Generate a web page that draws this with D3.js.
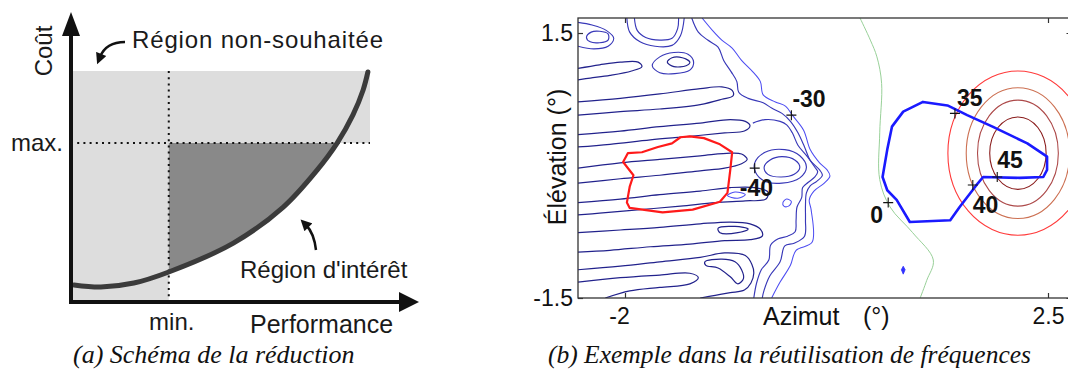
<!DOCTYPE html>
<html><head><meta charset="utf-8">
<script src="https://cdn.jsdelivr.net/npm/d3@7"></script>
<style>
html,body{margin:0;padding:0;background:#fff;}
svg{display:block;font-family:"Liberation Sans",Arial,sans-serif;}
</style></head>
<body>
<svg id="fig" width="1068" height="373"></svg>
<script>
// ================= DATA : panel (a) schematic =================
const perfValues = [0.1, 1.0, 2.1, 3.27, 5.43, 7.1, 8.23, 8.9, 9.43, 9.77, 9.93];
const costValues = [0.74, 0.65, 0.82, 1.30, 2.55, 4.11, 5.71, 6.88, 8.10, 9.18, 9.96];
const perfMin = 3.27;   // "min."
const costMax = 6.88;   // "max."
const schemaTickLabels = ["min.", "max."];
const schemaAxisTitles = ["Performance", "Coût"];
const schemaRegionLabels = ["Région non-souhaitée", "Région d'intérêt"];

// ================= DATA : panel (b) contour example =================
const azTicks = [-2, 2.5];
const azTickLabels = ["-2", "2.5"];
const elTicks = [-1.5, 1.5];
const elTickLabels = ["-1.5", "1.5"];

const markerAz = [-0.23, -0.62, 0.80, 1.51, 1.70, 1.96];
const markerEl = [0.57, -0.03, -0.42, 0.59, -0.22, -0.13];
const markerLabels = ["-30", "-40", "0", "35", "40", "45"];

// concentric contours of the wanted beam (centre, semi-axes in az / el)
const ringCentre = [2.18, 0.14];
const ringRxAz = [0.745, 0.55, 0.43, 0.30];
const ringRyEl = [0.93, 0.74, 0.60, 0.41];

const redZone = [[-2.02,0.04],[-1.97,0.14],[-1.82,0.15],[-1.65,0.21],[-1.50,0.25],[-1.41,0.32],[-1.31,0.33],[-1.16,0.31],[-0.99,0.24],[-0.86,0.15],[-0.88,-0.05],[-0.91,-0.31],[-0.99,-0.41],[-1.28,-0.50],[-1.60,-0.53],[-1.95,-0.48],[-1.98,-0.42],[-1.95,-0.24],[-1.91,-0.11]];
const blueZone = [[1.17,0.72],[1.43,0.68],[1.49,0.65],[1.64,0.57],[1.91,0.44],[2.28,0.25],[2.49,0.10],[2.49,-0.05],[2.45,-0.13],[2.20,-0.14],[1.81,-0.13],[1.74,-0.22],[1.56,-0.47],[1.46,-0.62],[1.03,-0.64],[0.89,-0.39],[0.79,-0.28],[0.74,-0.13],[0.79,0.18],[0.84,0.44],[0.96,0.61]];
const zeroLine = [[0.50,1.67],[0.61,1.42],[0.68,1.23],[0.73,0.93],[0.71,0.37],[0.71,-0.16],[0.82,-0.47],[1.06,-0.76],[1.28,-1.07],[1.21,-1.30],[1.14,-1.50]];
const smallBlob = [[0.94,-1.18],[0.96,-1.14],[0.98,-1.18],[0.96,-1.23]];

// side-lobe contours (open lines and closed loops)
const lobeTL = [[-2.50,1.62],[-2.35,1.59],[-2.20,1.53],[-2.12,1.44],[-2.18,1.35],[-2.33,1.32],[-2.50,1.35]];
const islandTL = [[-2.41,1.45],[-2.36,1.51],[-2.27,1.52],[-2.18,1.49],[-2.18,1.42],[-2.27,1.39],[-2.37,1.40]];
const topOuter = [[-1.98,1.67],[-1.95,1.51],[-1.84,1.40],[-1.68,1.35],[-1.50,1.36],[-1.41,1.47],[-1.37,1.67]];
const topInner = [[-1.90,1.67],[-1.87,1.53],[-1.78,1.45],[-1.63,1.42],[-1.50,1.44],[-1.44,1.55],[-1.43,1.67]];
const loopI2 = [[-1.71,1.13],[-1.63,1.23],[-1.48,1.28],[-1.33,1.26],[-1.27,1.17],[-1.31,1.08],[-1.47,1.04],[-1.63,1.05]];
const islandI2 = [[-1.55,1.17],[-1.50,1.22],[-1.39,1.22],[-1.31,1.17],[-1.35,1.13],[-1.48,1.12]];
const stripe1 = [[-2.50,1.10],[-2.27,1.14],[-2.05,1.17],[-1.86,1.17],[-1.82,1.12],[-1.93,1.07],[-2.16,1.02],[-2.37,0.99],[-2.50,0.97]];
const stripe2 = [[-2.50,0.72],[-2.05,0.76],[-1.63,0.81],[-1.20,0.87],[-0.97,0.89],[-0.86,0.85],[-0.85,0.79],[-0.97,0.75],[-1.20,0.69],[-1.63,0.64],[-2.05,0.61],[-2.50,0.57]];
const stripe3 = [[-2.50,0.35],[-2.05,0.39],[-1.63,0.44],[-1.20,0.48],[-0.88,0.52],[-0.72,0.50],[-0.67,0.45],[-0.73,0.39],[-0.94,0.37],[-1.31,0.33],[-1.73,0.29],[-2.16,0.24],[-2.50,0.21]];
const stripe4 = [[-2.50,-0.03],[-2.05,0.03],[-1.63,0.07],[-1.20,0.11],[-0.88,0.14],[-0.76,0.13],[-0.70,0.07],[-0.76,0.02],[-0.94,-0.03],[-1.20,-0.06],[-1.63,-0.11],[-2.05,-0.15],[-2.50,-0.20]];
const stripe5 = [[-2.50,-0.42],[-2.05,-0.38],[-1.63,-0.33],[-1.20,-0.29],[-0.88,-0.25],[-0.62,-0.25],[-0.48,-0.30],[-0.50,-0.38],[-0.72,-0.40],[-1.04,-0.42],[-1.41,-0.46],[-1.84,-0.50],[-2.27,-0.54],[-2.50,-0.56]];
const stripe6 = [[-2.50,-0.76],[-2.05,-0.73],[-1.63,-0.70],[-1.20,-0.66],[-0.88,-0.64],[-0.67,-0.66],[-0.56,-0.72],[-0.54,-0.80],[-0.67,-0.84],[-0.94,-0.85],[-1.31,-0.89],[-1.73,-0.92],[-2.16,-0.96],[-2.50,-0.98]];
const island6 = [[-1.01,-0.71],[-0.83,-0.69],[-0.69,-0.72],[-0.80,-0.76],[-0.99,-0.76]];
const stripe7 = [[-2.50,-1.18],[-2.05,-1.14],[-1.63,-1.09],[-1.20,-1.04],[-0.94,-0.99],[-0.72,-1.02],[-0.65,-1.12],[-0.63,-1.22],[-0.66,-1.33],[-0.73,-1.41],[-0.88,-1.44],[-1.04,-1.47],[-1.20,-1.50]];
const island7 = [[-1.15,-1.09],[-0.97,-1.06],[-0.83,-1.09],[-0.76,-1.18],[-0.74,-1.28],[-0.80,-1.34],[-0.88,-1.26],[-1.01,-1.16],[-1.14,-1.13]];
const stripe8 = [[-2.50,-1.32],[-2.05,-1.27],[-1.63,-1.24],[-1.31,-1.22],[-1.22,-1.27],[-1.31,-1.34],[-1.63,-1.38],[-1.95,-1.42],[-2.21,-1.50]];
const edgeOuter = [[-1.18,1.67],[-1.07,1.53],[-0.97,1.42],[-0.86,1.33],[-0.76,1.19],[-0.64,1.06],[-0.56,0.95],[-0.53,0.80],[-0.40,0.72],[-0.29,0.67],[-0.22,0.57],[-0.10,0.40],[-0.03,0.18],[0.07,0.03],[0.15,-0.05],[0.18,-0.12],[0.12,-0.20],[0.01,-0.29],[-0.04,-0.39],[-0.02,-0.50],[-0.01,-0.87],[-0.18,-0.96],[-0.24,-1.13],[-0.35,-1.32],[-0.44,-1.50]];
const edgeMiddle = [[-1.29,1.67],[-1.22,1.51],[-1.12,1.42],[-1.01,1.34],[-0.95,1.19],[-0.87,1.06],[-0.81,0.95],[-0.79,0.83],[-0.69,0.76],[-0.53,0.71],[-0.44,0.65],[-0.33,0.59],[-0.24,0.50],[-0.16,0.37],[-0.09,0.21],[-0.03,0.06],[0.07,-0.05],[0.10,-0.11],[0.04,-0.18],[-0.03,-0.23],[-0.07,-0.31],[-0.08,-0.45],[-0.08,-0.62],[-0.09,-0.80],[-0.20,-0.88],[-0.30,-0.91],[-0.35,-1.09],[-0.46,-1.25],[-0.52,-1.41],[-0.54,-1.50]];
const edgeInner = [[-0.64,0.48],[-0.51,0.52],[-0.35,0.50],[-0.28,0.46],[-0.22,0.37],[-0.16,0.23],[-0.06,0.10],[0.02,-0.02],[0.05,-0.07],[0.02,-0.13],[-0.05,-0.19],[-0.11,-0.25],[-0.12,-0.36],[-0.17,-0.47],[-0.18,-0.62],[-0.19,-0.75],[-0.27,-0.80],[-0.37,-0.83],[-0.45,-0.90],[-0.47,-1.07],[-0.55,-1.18],[-0.60,-1.33],[-0.63,-1.50]];
const islandI3 = [[-0.52,-0.02],[-0.46,0.06],[-0.33,0.10],[-0.19,0.06],[-0.14,-0.02],[-0.20,-0.10],[-0.34,-0.13],[-0.48,-0.10]];
const loopI3 = [[-0.62,0.03],[-0.51,0.15],[-0.30,0.18],[-0.14,0.11],[-0.07,-0.02],[-0.14,-0.14],[-0.33,-0.20],[-0.51,-0.18],[-0.61,-0.08]];
const islandI4 = [[-0.91,-0.34],[-0.83,-0.30],[-0.72,-0.33],[-0.80,-0.37]];
const islandI5 = [[-0.32,-0.42],[-0.28,-0.38],[-0.23,-0.41],[-0.26,-0.46],[-0.31,-0.46]];

const contourList = [
  {pts: lobeTL, closed:false, tone:"mid"}, {pts: islandTL, closed:true, tone:"mid"},
  {pts: topOuter, closed:false, tone:"mid"}, {pts: topInner, closed:false, tone:"mid"},
  {pts: loopI2, closed:true, tone:"mid"}, {pts: islandI2, closed:true, tone:"dark"},
  {pts: stripe1, closed:false, tone:"dark"}, {pts: stripe2, closed:false, tone:"dark"},
  {pts: stripe3, closed:false, tone:"dark"}, {pts: stripe4, closed:false, tone:"dark"},
  {pts: stripe5, closed:false, tone:"dark"}, {pts: stripe6, closed:false, tone:"dark"},
  {pts: island6, closed:true, tone:"dark"}, {pts: stripe7, closed:false, tone:"dark"},
  {pts: island7, closed:true, tone:"dark"}, {pts: stripe8, closed:false, tone:"dark"},
  {pts: edgeOuter, closed:false, tone:"light"}, {pts: edgeMiddle, closed:false, tone:"mid"},
  {pts: edgeInner, closed:false, tone:"mid"}, {pts: islandI3, closed:true, tone:"mid"},
  {pts: loopI3, closed:true, tone:"mid"}, {pts: islandI4, closed:true, tone:"light"},
  {pts: islandI5, closed:true, tone:"light"}
];

// ================= STYLE =================
const toneStyle = {
  dark:  {color:"#22228c", width:1.2},
  mid:   {color:"#3838b8", width:1.15},
  light: {color:"#4d4df2", width:1.05}
};
const ringColors = ["#ff3a3a", "#cc7052", "#ad4a4a", "#8a1c1c"];

const svg = d3.select("#fig");
const defs = svg.append("defs");
defs.append("marker").attr("id","ah").attr("viewBox","0 0 10 10")
  .attr("refX",3).attr("refY",5).attr("markerWidth",12).attr("markerHeight",11)
  .attr("markerUnits","userSpaceOnUse").attr("orient","auto")
  .append("path").attr("d","M0,0L10,5L0,10z").attr("fill","#111");

// ================= PANEL (a) =================
const xa = d3.scaleLinear().domain([0,10]).range([71,370]);
const ya = d3.scaleLinear().domain([0,10]).range([302,71]);
const ga = svg.append("g");
const curvePts = perfValues.map((p,i)=>[p, costValues[i]]);

ga.append("rect").attr("x",xa(0)).attr("y",ya(10))
  .attr("width",xa(10)-xa(0)).attr("height",ya(costMax)-ya(10)).attr("fill","#dddddd");
ga.append("rect").attr("x",xa(0)).attr("y",ya(costMax))
  .attr("width",xa(perfMin)-xa(0)).attr("height",ya(0)-ya(costMax)).attr("fill","#dddddd");

defs.append("clipPath").attr("id","clipA").append("rect")
  .attr("x",xa(perfMin)).attr("y",ya(costMax))
  .attr("width",xa(10)-xa(perfMin)).attr("height",ya(0)-ya(costMax));
const areaA = d3.area().x(d=>xa(d[0])).y0(d=>ya(d[1])).y1(ya(costMax))
  .curve(d3.curveCatmullRom.alpha(0.5));
ga.append("path").attr("d",areaA(curvePts)).attr("fill","#898989").attr("clip-path","url(#clipA)");

// dotted guides
ga.append("line").attr("x1",xa(perfMin)).attr("x2",xa(perfMin)).attr("y1",ya(10)).attr("y2",ya(0))
  .attr("stroke","#111").attr("stroke-width",2).attr("stroke-dasharray","2,4.2");
ga.append("line").attr("x1",xa(0)).attr("x2",xa(10)).attr("y1",ya(costMax)).attr("y2",ya(costMax))
  .attr("stroke","#111").attr("stroke-width",2).attr("stroke-dasharray","2,4.2");

// cost / performance curve
ga.append("path").attr("d", d3.line().x(d=>xa(d[0])).y(d=>ya(d[1])).curve(d3.curveCatmullRom.alpha(0.5))(curvePts))
  .attr("fill","none").attr("stroke","#3b3b3b").attr("stroke-width",5).attr("stroke-linecap","round");

// axes with arrows
ga.append("line").attr("x1",xa(0)).attr("x2",xa(0)).attr("y1",ya(0)+2).attr("y2",32)
  .attr("stroke","#111").attr("stroke-width",4);
ga.append("path").attr("d",`M${xa(0)-9},36L${xa(0)+9},36L${xa(0)},12Z`).attr("fill","#111");
ga.append("line").attr("x1",xa(0)-2).attr("x2",402).attr("y1",ya(0)).attr("y2",ya(0))
  .attr("stroke","#111").attr("stroke-width",4);
ga.append("path").attr("d",`M399,${ya(0)-10}L399,${ya(0)+10}L419,${ya(0)}Z`).attr("fill","#111");

// annotation arrows
ga.append("path").attr("d","M125,42 Q106,42 100,57").attr("fill","none")
  .attr("stroke","#111").attr("stroke-width",2.5).attr("marker-end","url(#ah)");
ga.append("path").attr("d","M316,250 Q314,233 306,225").attr("fill","none")
  .attr("stroke","#111").attr("stroke-width",2.5).attr("marker-end","url(#ah)");

// texts
const tA = (txt,x,y,size,anchor)=>ga.append("text").attr("x",x).attr("y",y)
  .attr("font-size",size).attr("text-anchor",anchor||"start").attr("fill","#1a1a1a").text(txt);
tA(schemaRegionLabels[0],132,48,24).attr("textLength",251).attr("lengthAdjust","spacing");
tA(schemaRegionLabels[1],240,278,24);
tA(schemaTickLabels[1],xa(0)-8,ya(costMax)+8,24,"end");
tA(schemaTickLabels[0],xa(perfMin)+3,330,24,"middle");
tA(schemaAxisTitles[0],250,333,25);
ga.append("text").attr("transform","translate(52,51) rotate(-90)").attr("text-anchor","middle")
  .attr("font-size",24).attr("fill","#1a1a1a").text(schemaAxisTitles[1]);
ga.append("text").attr("x",73).attr("y",363).attr("font-family","'Liberation Serif','Times New Roman',serif")
  .attr("font-style","italic").attr("font-size",26).attr("fill","#111").text("(a) Schéma de la réduction");

// ================= PANEL (b) =================
const xr = d3.scaleLinear().domain([-2.5, 2.75]).range([578, 1071.5]);
const yr = d3.scaleLinear().domain([-1.5, 1.67]).range([298, 18]);
const gb = svg.append("g");
defs.append("clipPath").attr("id","clipB").append("rect")
  .attr("x",xr(-2.5)).attr("y",yr(1.67)).attr("width",xr(2.75)-xr(-2.5)).attr("height",yr(-1.5)-yr(1.67));
const plot = gb.append("g").attr("clip-path","url(#clipB)");

const lineOpen = d3.line().x(d=>xr(d[0])).y(d=>yr(d[1])).curve(d3.curveCatmullRom.alpha(0.5));
const lineClosed = d3.line().x(d=>xr(d[0])).y(d=>yr(d[1])).curve(d3.curveCatmullRomClosed.alpha(0.5));
const lineLinClosed = d3.line().x(d=>xr(d[0])).y(d=>yr(d[1])).curve(d3.curveLinearClosed);

plot.append("path").attr("d",lineOpen(zeroLine)).attr("fill","none").attr("stroke","#98d098").attr("stroke-width",1);

plot.selectAll("path.ct").data(contourList).join("path").attr("class","ct")
  .attr("d",d=>d.closed?lineClosed(d.pts):lineOpen(d.pts))
  .attr("fill","none").attr("stroke",d=>toneStyle[d.tone].color)
  .attr("stroke-width",d=>toneStyle[d.tone].width).attr("stroke-linejoin","round");

plot.selectAll("ellipse.ring").data(ringRxAz).join("ellipse").attr("class","ring")
  .attr("cx",xr(ringCentre[0])).attr("cy",yr(ringCentre[1]))
  .attr("rx",d=>xr(ringCentre[0]+d)-xr(ringCentre[0]))
  .attr("ry",(d,i)=>yr(ringCentre[1]-ringRyEl[i])-yr(ringCentre[1]))
  .attr("fill","none").attr("stroke",(d,i)=>ringColors[i]).attr("stroke-width",1.1);

plot.append("path").attr("d",lineLinClosed(redZone)).attr("fill","none")
  .attr("stroke","#ff1a1a").attr("stroke-width",2.2).attr("stroke-linejoin","round");
plot.append("path").attr("d",lineLinClosed(blueZone)).attr("fill","none")
  .attr("stroke","#1a1aff").attr("stroke-width",2.6).attr("stroke-linejoin","round");
plot.append("path").attr("d",lineLinClosed(smallBlob)).attr("fill","#3030ff").attr("stroke","#3030ff").attr("stroke-width",0.8);

// markers + labels
const labelOffsets = [[1,-8],[-15,28],[-18,20],[2,-7],[0,28],[0,-9]];
markerAz.forEach((az,i)=>{
  const px = xr(az), py = yr(markerEl[i]);
  gb.append("path").attr("d",`M${px-5},${py}H${px+5}M${px},${py-5}V${py+5}`)
    .attr("stroke","#111").attr("stroke-width",1.1);
  gb.append("text").attr("x",px+labelOffsets[i][0]).attr("y",py+labelOffsets[i][1])
    .attr("font-size",23).attr("font-weight","bold").attr("fill","#111").text(markerLabels[i]);
});

// frame
gb.append("rect").attr("x",xr(-2.5)).attr("y",yr(1.67)).attr("width",xr(2.75)-xr(-2.5))
  .attr("height",yr(-1.5)-yr(1.67)).attr("fill","none").attr("stroke","#333").attr("stroke-width",1.3);

function styleAxis(g){
  g.select(".domain").remove();
  g.attr("font-family",null).attr("font-size",null);
  g.selectAll(".tick line").attr("stroke","#333").attr("stroke-width",1.2);
  g.selectAll(".tick text").attr("font-size",23).attr("fill","#111");
}
gb.append("g").attr("transform",`translate(0,${yr(-1.5)})`)
  .call(d3.axisBottom(xr).tickValues(azTicks).tickFormat((d,i)=>azTickLabels[i]).tickSizeInner(-5).tickSizeOuter(0).tickPadding(10))
  .call(styleAxis)
  .call(g=>g.selectAll(".tick text").attr("dx",(d,i)=>i===0?"-6":"0"));
gb.append("g").attr("transform",`translate(0,${yr(1.67)})`)
  .call(d3.axisTop(xr).tickValues(azTicks).tickFormat(()=>"").tickSizeInner(-5).tickSizeOuter(0))
  .call(styleAxis);
gb.append("g").attr("transform",`translate(${xr(-2.5)},0)`)
  .call(d3.axisLeft(yr).tickValues(elTicks).tickFormat((d,i)=>elTickLabels[i]).tickSizeInner(-5).tickSizeOuter(0).tickPadding(5))
  .call(styleAxis);
gb.append("g").attr("transform",`translate(${xr(2.75)},0)`)
  .call(d3.axisRight(yr).tickValues(elTicks).tickFormat(()=>"").tickSizeInner(-5).tickSizeOuter(0))
  .call(styleAxis);

// axis titles
gb.append("text").attr("x",763).attr("y",325).attr("font-size",25).attr("fill","#111").text("Azimut");
gb.append("text").attr("x",863).attr("y",325).attr("font-size",25).attr("fill","#111").text("(°)");
gb.append("text").attr("transform","translate(566,157) rotate(-90)").attr("text-anchor","middle")
  .attr("font-size",25).attr("fill","#111").text("Élévation (°)");
gb.append("text").attr("x",548).attr("y",363).attr("font-family","'Liberation Serif','Times New Roman',serif")
  .attr("font-style","italic").attr("font-size",25.5).attr("fill","#111").text("(b) Exemple dans la réutilisation de fréquences");
</script>
</body></html>
